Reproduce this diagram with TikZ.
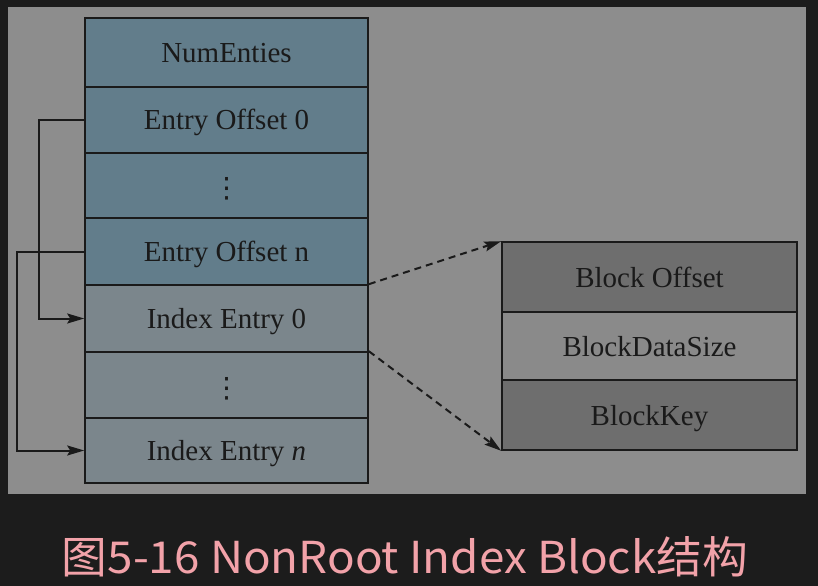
\documentclass[tikz,border=0pt]{standalone}
\usepackage{fontspec}
\setmainfont{Liberation Serif}
\newfontfamily\cjk{Noto Sans CJK SC}
\newfontfamily\dvs{DejaVu Sans}
\usetikzlibrary{arrows.meta}
\definecolor{bgc}{HTML}{1C1C1C}
\definecolor{panelc}{HTML}{8D8D8D}
\definecolor{bluec}{HTML}{627D8B}
\definecolor{lowc}{HTML}{7B868C}
\definecolor{darkc}{HTML}{6E6E6E}
\definecolor{midc}{HTML}{8A8A8A}
\definecolor{linec}{HTML}{1A1A1A}
\definecolor{capc}{HTML}{F2A2A9}
\begin{document}
\begin{tikzpicture}[x=1bp,y=-1bp,
  cell/.style={draw=linec, line width=1.6bp, inner sep=0pt, text=linec,
    text height=20bp, text depth=0pt,
    font=\fontsize{29bp}{33bp}\selectfont},
  lcell/.style={cell, minimum width=283bp},
  rcell/.style={cell, minimum width=295bp},
  dotcell/.style={font=\dvs\fontsize{28bp}{30bp}\selectfont, text height=25bp, text depth=0pt},
  link/.style={draw=linec, line width=2bp, -{Stealth[length=17bp,width=10bp,inset=3bp]}},
  dlink/.style={link, dash pattern=on 7bp off 5bp}]
\fill[bgc] (0,0) rectangle (818,586);
\fill[panelc] (8,7) rectangle (806,494);
\node[lcell, fill=bluec, minimum height=69bp] (r1) at (226.5,52.5) {NumEnties};
\node[lcell, fill=bluec, minimum height=66bp] (r2) at (226.5,120) {Entry Offset 0};
\node[lcell, fill=bluec, minimum height=65bp, dotcell] (r3) at (226.5,185.5) {⋮};
\node[lcell, fill=bluec, minimum height=67bp] (r4) at (226.5,251.5) {Entry Offset n};
\node[lcell, fill=lowc, minimum height=67bp] (r5) at (226.5,318.5) {Index Entry 0};
\node[lcell, fill=lowc, minimum height=66bp, dotcell] (r6) at (226.5,385) {⋮};
\node[lcell, fill=lowc, minimum height=65bp] (r7) at (226.5,450.5) {Index Entry \textit{n}};
\node[rcell, fill=darkc, minimum height=70bp] (b1) at (649.5,277) {Block Offset};
\node[rcell, fill=midc, minimum height=68bp] (b2) at (649.5,346) {BlockDataSize};
\node[rcell, fill=darkc, minimum height=70bp] (b3) at (649.5,415) {BlockKey};
\draw[link] (r2.west) -- ++(-45,0) |- (r5.west);
\draw[link] (r4.west) -- ++(-67,0) |- (r7.west);
\draw[dlink] (r5.north east) -- (b1.north west);
\draw[dlink] (r6.north east) -- (b3.south west);
\node[anchor=base, text=capc, xscale=1.04, font=\cjk\fontsize{44bp}{48bp}\selectfont] (cap) at (405,573) {图5-16 NonRoot Index Block结构};
\end{tikzpicture}
\end{document}
